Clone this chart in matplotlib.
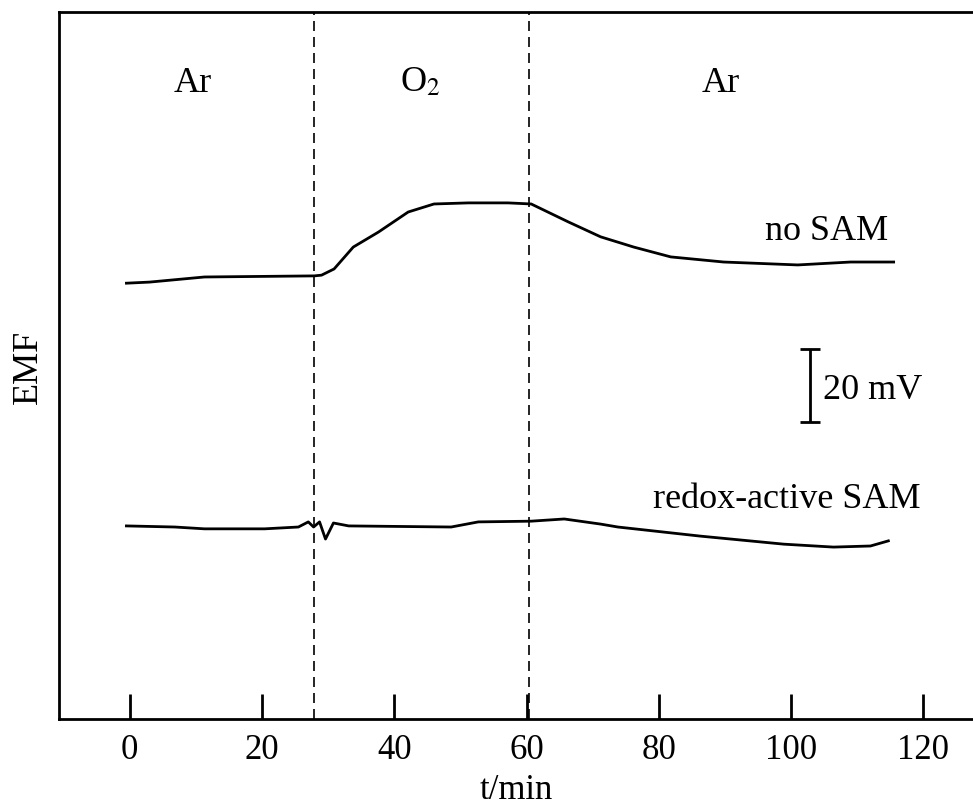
import matplotlib
matplotlib.use("Agg")
import matplotlib.pyplot as plt

# values (t in min, EMF in mV with arbitrary offset)
t_nosam = [-0.5, 3.0, 11.3, 27.9, 29.0, 30.9, 33.8, 37.6, 42.1, 46.0, 51.2,
           57.2, 60.7, 66.3, 71.2, 76.2, 81.8, 89.8, 101.0, 109.0, 115.5]
emf_nosam = [119.4, 119.7, 121.1, 121.4, 121.6, 123.3, 129.3, 133.4, 138.9,
             141.1, 141.4, 141.4, 141.1, 136.2, 132.1, 129.3, 126.6, 125.2,
             124.4, 125.2, 125.2]

t_redox = [-0.5, 6.8, 11.3, 20.4, 25.5, 27.0, 27.8, 28.7, 29.6, 30.8, 33.1,
           48.6, 52.7, 60.7, 65.7, 71.2, 73.8, 86.3, 98.9, 106.4, 112.0, 114.7]
emf_redox = [52.9, 52.6, 52.1, 52.1, 52.6, 54.0, 52.6, 54.0, 49.3, 53.7, 52.9,
             52.6, 54.0, 54.2, 54.8, 53.4, 52.6, 50.1, 47.9, 47.1, 47.4, 48.8]

gas_switch = [27.8, 60.4]
gas_labels = ["Ar", "O$_2$", "Ar"]
gas_label_x = [9.5, 44.0, 89.4]
xticks = [0, 20, 40, 60, 80, 100, 120]

plt.rcParams['font.family'] = ['Liberation Serif', 'DejaVu Serif']
plt.rcParams['mathtext.fontset'] = 'stix'

fig = plt.figure(figsize=(9.73, 8.12), dpi=100)
ax = fig.add_axes([0.0606, 0.1133, 0.9394, 0.8707])

ax.plot(t_nosam, emf_nosam, color='black', lw=2.0)
ax.plot(t_redox, emf_redox, color='black', lw=2.0)

for x in gas_switch:
    ax.axvline(x, color='black', lw=1.2, dashes=(6, 3.6))

for lab, x in zip(gas_labels, gas_label_x):
    ax.text(x, 174.5, lab, fontsize=26, ha='center', va='center')

ax.text(114.6, 133.7, "no SAM", fontsize=26, ha='right', va='center')
ax.text(119.5, 60.3, "redox-active SAM", fontsize=26, ha='right', va='center')

# 20 mV scale bar
ax.errorbar([102.8], [91.4], yerr=[10], color='black', lw=2, capsize=7,
            capthick=2, fmt='none')
ax.text(104.8, 90.4, "20 mV", fontsize=26, ha='left', va='center')

ax.set_xlim(-10.7, 127.5)
ax.set_ylim(0, 193.7)
ax.set_xticks(xticks)
ax.set_yticks([])
ax.tick_params(axis='x', direction='in', length=18, width=2, labelsize=25, pad=10)
for s in ['left', 'top', 'bottom']:
    ax.spines[s].set_linewidth(2)
ax.spines['right'].set_visible(False)

ax.set_xlabel("t/min", fontsize=25, labelpad=5)
ax.set_ylabel("EMF", fontsize=26, labelpad=10)

fig.savefig("out.png", dpi=100)
